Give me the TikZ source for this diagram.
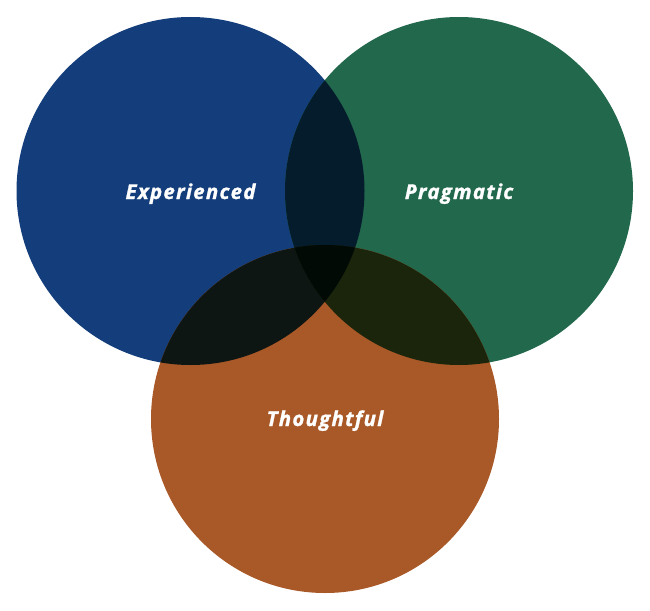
\documentclass[tikz,border=0pt]{standalone}
\usepackage{fontspec}
\setmainfont{Open Sans}[LetterSpace=6,FakeBold=1.2]
\definecolor{cblue}{HTML}{133E7B}
\definecolor{cgreen}{HTML}{22684C}
\definecolor{corange}{HTML}{A95827}
\definecolor{cbg}{HTML}{041C2B}
\definecolor{cbo}{HTML}{0E1613}
\definecolor{cgo}{HTML}{1A250C}
\definecolor{cbgo}{HTML}{020A06}
\begin{document}
\begin{tikzpicture}[x=1pt,y=-1pt,
  lbl/.style={text=white, font=\fontsize{20.5}{24}\selectfont\bfseries\itshape, anchor=base, inner sep=0pt}]
\useasboundingbox (0,0) rectangle (650,610);
\coordinate (cb) at (190.5,191);
\coordinate (cg) at (459,191);
\coordinate (co) at (325,419);
\def\R{174pt}
\fill[cblue] (cb) circle[radius=\R];
\fill[cgreen] (cg) circle[radius=\R];
\fill[corange] (co) circle[radius=\R];
\begin{scope}
  \clip (cb) circle[radius=\R];
  \fill[cbg] (cg) circle[radius=\R];
  \fill[cbo] (co) circle[radius=\R];
\end{scope}
\begin{scope}
  \clip (cg) circle[radius=\R];
  \fill[cgo] (co) circle[radius=\R];
\end{scope}
\begin{scope}
  \clip (cb) circle[radius=\R];
  \clip (cg) circle[radius=\R];
  \fill[cbgo] (co) circle[radius=\R];
\end{scope}
\node[lbl] (exp) at (190.5,199) {Experienced};
\node[lbl] (prag) at (459,199) {Pragmatic};
\node[lbl] (thou) at (325,426) {Thoughtful};
\end{tikzpicture}
\end{document}
